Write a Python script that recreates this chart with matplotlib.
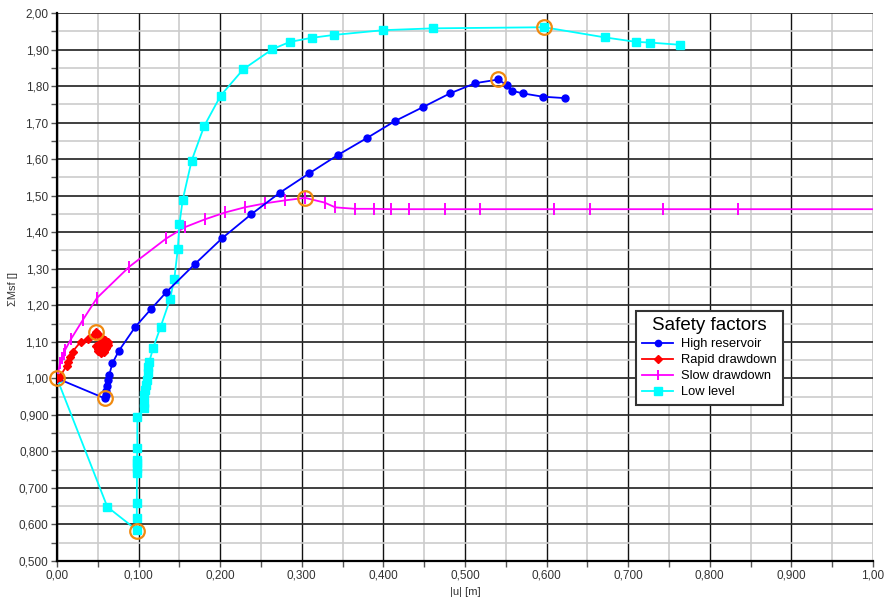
import matplotlib
matplotlib.use("Agg")
import matplotlib.pyplot as plt
from matplotlib.ticker import FixedLocator, MultipleLocator

plt.rcParams['font.family'] = ['Liberation Sans', 'DejaVu Sans']

# ---- data ----
high_x = [0.0, 0.0588, 0.0595, 0.0605, 0.061, 0.062, 0.064, 0.0678, 0.076, 0.096, 0.115,
          0.134, 0.1695, 0.2026, 0.238, 0.273, 0.309, 0.344, 0.380, 0.414, 0.449,
          0.4816, 0.5127, 0.541, 0.551, 0.558, 0.5707, 0.595, 0.6225]
high_y = [1.00, 0.945, 0.954, 0.966, 0.980, 0.995, 1.009, 1.041, 1.076, 1.141, 1.189,
          1.236, 1.314, 1.384, 1.449, 1.508, 1.561, 1.611, 1.658, 1.704, 1.743,
          1.780, 1.808, 1.818, 1.802, 1.787, 1.780, 1.771, 1.767]

rapid_x = [0.0, 0.0037, 0.0118, 0.0139, 0.016, 0.019, 0.029, 0.038, 0.045, 0.0478,
           0.050, 0.053, 0.056, 0.059, 0.061, 0.062, 0.060, 0.057, 0.053, 0.050,
           0.048, 0.052, 0.056, 0.060, 0.058, 0.054, 0.050, 0.055, 0.059, 0.062]
rapid_y = [1.00, 1.005, 1.035, 1.045, 1.059, 1.073, 1.100, 1.109, 1.118, 1.127,
           1.120, 1.114, 1.109, 1.104, 1.097, 1.090, 1.083, 1.078, 1.075, 1.080,
           1.088, 1.093, 1.098, 1.085, 1.072, 1.068, 1.075, 1.087, 1.080, 1.100]

slow_x = [0.0, 0.0037, 0.006, 0.008, 0.0098, 0.017, 0.032, 0.049, 0.0886, 0.134,
          0.157, 0.181, 0.206, 0.230, 0.255, 0.279, 0.304, 0.328, 0.341, 0.365,
          0.388, 0.409, 0.431, 0.475, 0.518, 0.609, 0.653, 0.743, 0.835, 1.05]
slow_y = [1.00, 1.043, 1.057, 1.066, 1.077, 1.107, 1.161, 1.220, 1.3055, 1.383,
          1.414, 1.435, 1.454, 1.468, 1.479, 1.487, 1.494, 1.481, 1.468, 1.464,
          1.464, 1.463, 1.463, 1.463, 1.463, 1.463, 1.463, 1.463, 1.463, 1.463]

low_x = [0.0, 0.0617, 0.0976, 0.0978, 0.0978, 0.098, 0.098, 0.098, 0.098, 0.0984,
         0.0984, 0.1066, 0.107, 0.107, 0.108, 0.109, 0.110, 0.111, 0.112, 0.113,
         0.118, 0.127, 0.1385, 0.1438, 0.148, 0.150, 0.154, 0.165, 0.1805, 0.2006,
         0.2283, 0.264, 0.2855, 0.312, 0.3395, 0.400, 0.461, 0.597, 0.672, 0.7096,
         0.727, 0.7635]
low_y = [1.00, 0.648, 0.585, 0.617, 0.658, 0.740, 0.754, 0.767, 0.776, 0.810,
         0.895, 0.918, 0.932, 0.954, 0.968, 0.982, 0.995, 1.014, 1.032, 1.045,
         1.084, 1.141, 1.216, 1.273, 1.353, 1.422, 1.488, 1.596, 1.691, 1.774,
         1.846, 1.901, 1.921, 1.932, 1.940, 1.953, 1.958, 1.961, 1.933, 1.921,
         1.919, 1.913]

crit_x = [0.0, 0.0588, 0.0478, 0.0976, 0.304, 0.541, 0.597]
crit_y = [1.00, 0.945, 1.127, 0.582, 1.494, 1.818, 1.961]

x_ticks = [0.0, 0.1, 0.2, 0.3, 0.4, 0.5, 0.6, 0.7, 0.8, 0.9, 1.0]
x_tick_labels = ['0,00', '0,100', '0,200', '0,300', '0,400', '0,500', '0,600',
                 '0,700', '0,800', '0,900', '1,00']
y_ticks = [0.5, 0.6, 0.7, 0.8, 0.9, 1.0, 1.1, 1.2, 1.3, 1.4, 1.5, 1.6, 1.7, 1.8, 1.9, 2.0]
y_tick_labels = ['0,500', '0,600', '0,700', '0,800', '0,900', '1,00', '1,10', '1,20',
                 '1,30', '1,40', '1,50', '1,60', '1,70', '1,80', '1,90', '2,00']

# ---- figure ----
fig = plt.figure(figsize=(8.84, 6.0), dpi=100)
ax = fig.add_axes([57/884, 1-561/600, (873-57)/884, (561-13)/600])

ax.set_xlim(0, 1.0)
ax.set_ylim(0.5, 2.0)
ax.xaxis.set_major_locator(FixedLocator(x_ticks))
ax.yaxis.set_major_locator(FixedLocator(y_ticks))
ax.xaxis.set_minor_locator(MultipleLocator(0.05))
ax.yaxis.set_minor_locator(MultipleLocator(0.05))
ax.set_xticklabels(x_tick_labels)
ax.set_yticklabels(y_tick_labels)

ax.grid(which='minor', color='#cccccc', lw=1.2, zorder=0)
ax.grid(which='major', axis='x', color='#111111', lw=1.0, zorder=0.5)
ax.grid(which='major', axis='y', color='#303030', lw=1.3, zorder=0.5)
ax.set_axisbelow(True)

ax.tick_params(which='both', direction='out', length=4, width=1, color='#555555',
               labelsize=8.5, labelcolor='#333333', pad=2)
for side in ['top', 'right']:
    ax.spines[side].set_visible(False)
for side in ['left', 'bottom']:
    ax.spines[side].set_color('#000000')
    ax.spines[side].set_linewidth(1.6)

ax.plot(slow_x, slow_y, color='#ff00ff', lw=1.3, marker='|', ms=8, mew=1.4,
        label='Slow drawdown', zorder=3)
ax.plot(low_x, low_y, color='#00ffff', lw=1.3, marker='s', ms=6,
        label='Low level', zorder=3)
ax.plot(high_x, high_y, color='#0000ff', lw=1.3, marker='o', ms=5,
        label='High reservoir', zorder=4)
ax.plot(rapid_x, rapid_y, color='#ff0000', lw=1.3, marker='D', ms=4.5,
        label='Rapid drawdown', zorder=4)
ax.plot(crit_x, crit_y, ls='none', marker='o', ms=10.5, mfc='none', mec='#f08a10',
        mew=1.6, zorder=6, clip_on=False)

ax.set_xlabel('|u| [m]', fontsize=8, color='#333333', labelpad=4)
fig.text(13/884, 1-289/600, 'ΣMsf []', rotation=90, ha='center', va='center',
         fontsize=8, color='#333333')

h, l = ax.get_legend_handles_labels()
order = ['High reservoir', 'Rapid drawdown', 'Slow drawdown', 'Low level']
hh = [h[l.index(o)] for o in order]
leg = fig.legend(hh, order, loc='upper left', bbox_to_anchor=(636/884, 1-311/600),
                 bbox_transform=fig.transFigure, borderaxespad=0, fancybox=False,
                 framealpha=1, edgecolor='#333333', title='Safety factors',
                 title_fontsize=13.5, fontsize=9.3, handlelength=2.4, handletextpad=0.6,
                 labelspacing=0.3, borderpad=0.5, markerscale=0.9)
leg.get_frame().set_linewidth(1.5)

fig.savefig('out.png', dpi=100)
